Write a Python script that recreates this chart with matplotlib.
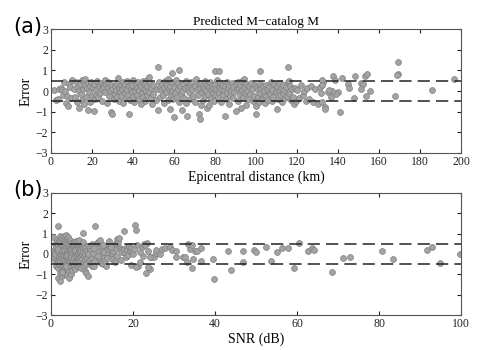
import matplotlib
matplotlib.use("Agg")
import matplotlib.pyplot as plt

# ---------------- Panel (a): epicentral distance vs error ----------------
dist_a = [1.5, 2.5, 3.5, 4, 5, 5.5, 6, 6.5, 7, 7.5, 8, 8.5, 9, 9.5, 10,
          10.5, 11, 11.5, 12, 12.5, 13, 13.5, 13.5, 14, 14.5, 15, 15, 15.5, 16, 16.5, 16.5, 17, 17.5, 18, 18, 18.5, 19, 19, 19.5, 20,
          20.5, 21, 21, 21.5, 22, 22, 22.5, 23, 23.5, 24, 24.5, 25, 25, 25.5, 26, 26.5, 26.5, 27, 27.5, 28, 28, 28.5, 29, 29.5, 29.5, 30, 30, 30.5,
          31, 31, 31.5, 32, 32, 32.5, 33, 33, 33.5, 34, 34, 34.5, 35, 35, 35.5, 36, 36, 36.5, 37, 37, 37.5, 38, 38, 38.5, 39, 39, 39.5, 40, 40, 40.5, 40.5, 39.5,
          41, 41.5, 42, 42, 42.5, 43, 43, 43.5, 44, 44, 44.5, 45, 45, 45.5, 46, 46, 46.5, 47, 47, 47.5, 48, 48, 48.5, 49, 49, 49.5, 50, 50, 51, 51.5,
          52, 52.5, 53, 53, 53.5, 54, 54.5, 55, 55, 55.5, 56, 56.5, 57, 57, 57.5, 58, 58, 58.5, 59, 59, 59.5, 60, 60, 60.5, 61, 52.4, 59.2, 62.6,
          61.5, 62, 62, 62.5, 63, 63.5, 64, 64, 64.5, 65, 65.5, 66, 66, 66.5, 67, 67.5, 68, 68, 68.5, 69, 69.5, 70, 70, 70.5, 71,
          71.5, 72, 72, 72.5, 72.5, 73, 73, 73.5, 74, 74, 74.5, 75, 75, 75.5, 76, 76, 76.5, 77, 77, 77.5, 78, 78, 78.5, 79, 79, 79.5, 80, 80, 80.5, 81,
          81.5, 82, 82, 82.5, 83, 83, 83.5, 84, 84.5, 85, 85, 85.5, 86, 86, 86.5, 87, 87, 87.5, 88, 88.5, 89, 89, 89.5, 90, 90, 80, 82,
          90.5, 91, 91, 91.5, 92, 92, 92.5, 93, 93, 93.5, 94, 94, 94.5, 95, 95, 95.5, 96, 96.5, 97, 97.5, 98, 98.5, 99, 99.5, 100, 100,
          100.5, 101, 101, 101.5, 102, 102, 102.5, 103, 103.5, 104, 104, 104.5, 105, 105, 105.5, 106, 106.5, 107, 107.5, 108, 108, 108.5, 109, 109.5, 110, 110, 102,
          110.5, 111, 111, 111.5, 112, 112.5, 113, 113, 113.5, 114, 114.5, 115, 115.5, 116, 116, 116.5, 117, 117.5, 118, 118.5, 119, 119.5, 120, 115.8,
          121, 122, 123, 123.5, 124.5, 125, 126, 127, 128, 129, 130, 131, 131.5, 132.5,
          132, 132, 137.4, 138.4, 141.8, 148.1, 153.2, 154.3, 144.7, 145.4, 151.2, 152.4, 151.4, 155.6, 153.7, 148, 140.2, 138.9,
          136.9, 135.3, 135.6, 136.4, 132, 133.7, 133.7, 141, 168, 185.7, 196.3, 169.1, 168.6, 169.4]
err_a = [0.05, -0.45, -0.4, 0.1, 0.15, 0.05, -0.2, 0.45, 0.0, -0.6, -0.25, -0.75, 0.35, 0.2, -0.35,
         0.55, 0.1, -0.3, 0.45, -0.55, 0.2, -0.8, 0.0, 0.35, -0.15, 0.55, -0.45, 0.1, -0.65, 0.3, 0.6, -0.3, 0.15, -0.9, 0.4, -0.05, 0.25, -0.55, 0.45, -0.25,
         0.15, -0.95, 0.35, -0.4, 0.05, -0.2, 0.5, -0.3, 0.25, -0.1, 0.4, 0.1, -0.5, 0.3, 0.2, 0.55, -0.05, 0.35, -0.6, 0.15, 0.45, -0.25, 0.0, -1.0, 0.3, -1.1, 0.1, -0.4,
         0.25, -0.15, 0.05, 0.4, -0.3, 0.65, 0.15, -0.5, -0.05, 0.3, -0.25, 0.1, 0.45, -0.6, 0.2, -0.1, 0.35, -0.35, 0.05, 0.5, -0.2, -1.1, 0.25, -0.45, 0.1, 0.4, -0.05, -0.3, 0.55, 0.2, -0.55, 0.3,
         0.0, 0.35, -0.2, 0.15, 0.45, -0.4, 0.05, 0.3, -0.65, 0.2, -0.1, 0.5, -0.3, 0.1, 0.35, -0.5, 0.0, 0.25, -0.2, 0.6, 0.7, -0.05, 0.4, -0.35, 0.15, -0.65, 0.3, -0.15, -0.45, 0.1,
         -0.9, 0.45, 0.2, -0.3, 0.05, 0.35, -0.2, 0.15, -0.6, 0.5, -0.05, 0.3, -0.45, 0.6, 0.1, -0.85, 0.25, -0.25, 0.45, 0.0, -0.4, -1.25, 0.2, -0.1, 0.55, 1.17, 0.85, 1.04,
         -0.3, 0.1, 0.4, -0.55, 0.25, -0.15, 0.0, -0.9, 0.35, -0.35, 0.15, -0.6, 0.5, -1.2, 0.2, -0.05, 0.3, -0.4, 0.45, 0.1, -0.25, 0.25, -0.55, 0.6, 0.05,
         -0.2, 0.35, -1.1, -1.35, 0.15, -0.7, 0.4, -0.05, 0.25, -0.45, 0.1, -0.25, 0.5, 0.0, -0.8, 0.3, -0.15, 0.2, -0.7, 0.45, 0.05, -0.35, 0.3, -0.1, 0.15, -0.5, 0.35, -0.2, 0.1, 0.55,
         -0.3, 0.2, -0.05, 0.4, -0.55, 0.1, 0.3, -0.2, 0.05, -1.2, 0.25, -0.4, 0.45, -0.1, 0.15, -0.65, 0.3, -0.25, 0.0, 0.4, -0.35, 0.2, -0.05, -0.95, 0.35, 0.96, 0.96,
         0.1, -0.5, 0.45, 0.15, -0.2, 0.3, -0.8, 0.05, 0.5, -0.3, 0.2, 0.6, -0.1, -0.7, 0.35, 0.0, -0.4, 0.25, -0.15, 0.4, 0.1, -0.5, -0.25, 0.3, -1.1, -0.75,
         0.2, -0.3, 0.05, -0.55, 0.35, -0.1, 0.15, -0.4, 0.25, -0.2, 0.0, -0.6, 0.3, -0.25, 0.1, -0.45, 0.2, -0.15, 0.45, -0.5, 0.05, -0.3, 0.35, -0.05, -0.85, 0.25, 0.98,
         -0.4, 0.4, 0.0, -0.2, 0.15, -0.55, 0.3, -0.1, 0.05, -0.35, 0.2, -0.25, 0.45, 0.5, -0.1, 0.25, -0.45, 0.1, -0.3, -0.65, 0.15, -0.5, 0.05, 1.14,
         -0.35, 0.3, -0.2, 0.0, -0.5, 0.15, -0.4, 0.25, -0.55, 0.1, -0.65, 0.2, -0.1, 0.45,
         0.53, 0.28, 0.74, 0.53, 0.63, 0.74, 0.73, 0.81, 0.34, 0.13, 0.37, 0.34, 0.1, 0.0, -0.23, -0.32, -0.07, -0.16,
         0.02, -0.03, 0.05, -0.31, -0.52, -0.76, -0.89, -1.0, -0.26, 0.03, 0.6, 0.81, 0.76, 1.39]

# ---------------- Panel (b): SNR vs error ----------------
snr_b = [0.6, 0.8, 0.9, 1.0, 1.1, 1.2, 1.3, 1.3, 1.4, 1.5, 0.7, 1.0,
         1.6, 1.6, 1.7, 1.7, 1.8, 1.8, 1.9, 1.9, 2.0, 2.0, 2.1, 2.1, 2.2, 2.2, 2.3, 2.3, 2.4, 2.4, 2.5, 2.5, 1.8, 2.2,
         2.6, 2.6, 2.7, 2.7, 2.8, 2.8, 2.9, 2.9, 3.0, 3.0, 3.0, 3.1, 3.1, 3.2, 3.2, 3.3, 3.3, 3.3, 3.4, 3.4, 3.5, 3.5, 2.7, 3.1, 3.4,
         3.6, 3.6, 3.7, 3.7, 3.8, 3.8, 3.9, 3.9, 4.0, 4.0, 4.0, 4.1, 4.1, 4.2, 4.2, 4.3, 4.3, 4.4, 4.4, 4.5, 4.5, 3.7, 4.0, 4.2, 4.4,
         4.6, 4.6, 4.7, 4.7, 4.8, 4.8, 4.9, 4.9, 5.0, 5.0, 5.1, 5.1, 5.2, 5.2, 5.3, 5.3, 5.4, 5.4, 5.5, 5.5, 4.8, 5.0, 5.2, 5.4,
         5.6, 5.6, 5.7, 5.7, 5.8, 5.8, 5.9, 5.9, 6.0, 6.0, 6.1, 6.1, 6.2, 6.2, 6.3, 6.3, 6.4, 6.4, 6.5, 6.5, 5.8, 6.2,
         6.6, 6.6, 6.7, 6.7, 6.8, 6.8, 6.9, 6.9, 7.0, 7.0, 7.1, 7.1, 7.2, 7.2, 7.3, 7.3, 7.4, 7.4, 7.5, 7.5,
         7.6, 7.7, 7.8, 7.8, 7.9, 8.0, 8.0, 8.1, 8.2, 8.2, 8.3, 8.4, 8.4, 8.5, 7.8,
         8.6, 8.7, 8.8, 9.0, 9.1, 9.2, 9.3, 9.4, 9.5, 9.6, 9.8, 9.9, 10.0, 9.1,
         10.2, 10.5, 10.8, 11.0, 11.2, 11.4, 11.6, 11.8, 12.0, 12.1, 12.3, 12.5, 12.8, 12.8, 13.0, 13.2, 13.5, 13.5, 13.8, 14.0,
         14.2, 14.3, 14.5, 14.8, 15.0, 15.2, 15.5, 15.5, 15.8, 16.0, 16.1, 16.3, 16.6, 16.8, 17.0, 17.1, 17.4, 17.7, 17.8, 18.0,
         18.2, 18.5, 18.6, 18.8, 19.0, 19.2, 19.4, 19.6, 19.8, 20.0, 10.6, 11.5, 12.6, 13.7, 14.6,
         20.4, 20.8, 23.3, 23.1, 24.2, 23.7, 21.2, 20.7, 21.6, 22.4, 24.5, 25.1, 25.7, 25.6, 23.7, 22.3, 21.0, 24.2, 22.8, 21.8,
         20.2, 23.0, 26.5, 27.0,
         27.9, 29.1, 29.6, 30.6, 30.6, 32.1, 32.7, 33.1, 33.5, 33.9, 34.5, 34.7, 34.5, 35.1, 35.7, 36.6, 36.6, 39.5, 39.8,
         43.1, 43.8, 46.8, 46.8, 49.6, 50.0, 52.5, 53.6, 55.1, 56.3, 57.7, 59.3, 60.4, 62.6, 63.7, 64.2, 68.6, 71.3, 72.9,
         80.7, 83.3, 91.8, 92.8, 94.9, 99.8]
err_b = [0.85, 0.2, -0.3, 0.5, -0.05, 0.35, -0.6, 0.1, -0.25, 0.7, -0.1, 0.0,
         1.37, -1.2, 0.45, -0.4, 0.1, -0.7, 0.65, -0.15, 0.3, -0.5, 0.9, -0.95, 0.05, -1.35, 0.6, -0.25, 0.2, -0.65, 0.4, -0.05, 0.25, -0.35,
         0.8, -0.55, 0.15, -1.1, 0.5, -0.2, 0.35, -0.8, 0.0, 0.6, -0.4, 0.9, -0.15, 0.25, -0.6, 0.45, -0.05, -1.0, 0.1, -0.3, 0.7, -0.7, -0.9, 0.2, 0.55,
         0.3, -0.45, 0.95, -0.1, 0.1, -0.75, 0.55, -0.3, 0.2, -1.05, 0.75, -0.2, 0.4, 0.0, -0.55, 0.65, -0.85, 0.15, -0.35, 0.5, -1.2, -0.6, -0.05, 0.85, 0.3,
         0.25, -0.3, 0.7, -0.05, -1.0, 0.4, 0.1, -0.6, 0.55, -0.2, 0.0, -0.45, 0.3, -0.8, 0.15, -0.1, 0.45, -0.35, 0.6, -0.65, 0.2, -0.15, 0.05, 0.35,
         0.1, -0.55, 0.4, -0.2, 0.25, -0.75, 0.05, 0.5, -0.35, 0.3, -0.1, 0.65, -0.5, 0.15, 0.35, -0.25, 0.0, -0.6, 0.45, -0.15, 0.2, -0.4,
         0.3, -0.4, 0.05, 0.55, -0.2, 0.7, -0.6, 0.15, 0.35, -0.05, -0.5, 0.25, 0.1, -0.3, 0.45, -0.7, 0.2, -0.15, 0.0, 0.4,
         -0.25, 0.3, 1.02, -0.45, 0.1, 0.45, -0.6, -0.1, 0.25, -0.85, 0.0, 0.35, -0.3, -0.5, 0.6,
         -0.95, 0.2, -0.2, -1.1, 0.4, -0.35, 0.05, 0.3, -0.5, 0.15, -0.15, 0.5, -0.6, 0.0,
         0.05, 0.3, 1.37, -0.3, 0.55, 0.6, -0.2, 0.15, 0.69, -0.45, 0.35, -0.05, -0.5, 0.2, 0.1, -0.35, 0.4, -0.6, 0.0, 0.25,
         0.62, -0.15, 0.3, 0.05, -0.25, 0.15, 0.5, -0.4, 0.25, 0.73, -0.1, 0.6, 0.76, 0.3, 0.2, -0.3, 0.1, 1.13, 0.25, 0.05,
         -0.15, 0.36, 0.2, -0.05, 0.4, 0.15, -0.55, 0.3, 0.1, 0.0, -0.6, -0.1, 0.45, -0.2, 0.35,
         1.4, 1.18, 0.56, -0.95, -0.75, -0.62, -0.59, -0.65, -0.42, -0.1, -0.13, -0.13, 0.03, 0.2, 0.16, 0.33, 0.44, -0.16, 0.5, 0.1,
         0.25, 0.45, 0.0, 0.22,
         0.29, 0.33, 0.2, 0.16, -0.16, -0.13, -0.16, -0.42, 0.49, 0.23, 0.42, -0.26, -0.67, 0.13, 0.13, 0.29, -0.33, -0.26, -1.23,
         0.15, -0.78, 0.15, -0.38, 0.2, 0.08, 0.33, -0.33, 0.1, 0.31, 0.28, -0.67, 0.52, 0.16, 0.28, 0.18, -0.9, -0.21, -0.16,
         0.13, -0.26, 0.18, 0.33, -0.44, 0.02]

title_a = "Predicted M\u2212catalog M"
xlabel_a = "Epicentral distance (km)"
xlabel_b = "SNR (dB)"
ylabel = "Error"
thresholds = [0.5, -0.5]

serif = ["Liberation Serif", "DejaVu Serif"]
plt.rcParams["font.family"] = serif

fig = plt.figure(figsize=(4.9, 3.5), dpi=100)
ax1 = fig.add_axes([0.104, 0.563, 0.837, 0.354])
ax2 = fig.add_axes([0.104, 0.100, 0.837, 0.349])

def style(ax, xmax, xticks):
    ax.set_xlim(0, xmax)
    ax.set_ylim(-3, 3)
    ax.set_xticks(xticks)
    ax.set_yticks([-3, -2, -1, 0, 1, 2, 3])
    ax.set_yticklabels(["\u22123", "\u22122", "\u22121", "0", "1", "2", "3"])
    ax.tick_params(direction="in", top=True, right=True, length=3, width=0.8,
                   labelsize=8.5, pad=2, colors="#222222")
    for s in ax.spines.values():
        s.set_color("#555555")
        s.set_linewidth(0.8)
    for t in thresholds:
        ax.axhline(t, color="#222222", lw=1.1, dashes=(8, 4), zorder=3)
    ax.set_ylabel(ylabel, fontsize=10, labelpad=2)

ax1.scatter(dist_a, err_a, s=18, c="#a3a3a3", edgecolors="#808080", linewidths=0.5, zorder=2)
style(ax1, 200, list(range(0, 201, 20)))
ax1.set_title(title_a, fontsize=9.5, pad=3)
ax1.set_xlabel(xlabel_a, fontsize=10, labelpad=2)

ax2.scatter(snr_b, err_b, s=18, c="#a3a3a3", edgecolors="#808080", linewidths=0.5, zorder=2)
style(ax2, 100, list(range(0, 101, 20)))
ax2.set_xlabel(xlabel_b, fontsize=10, labelpad=2)

fig.text(0.027, 0.905, "(a)", fontsize=15, family="DejaVu Sans")
fig.text(0.027, 0.44, "(b)", fontsize=15, family="DejaVu Sans")

fig.savefig("out.png", dpi=100)
